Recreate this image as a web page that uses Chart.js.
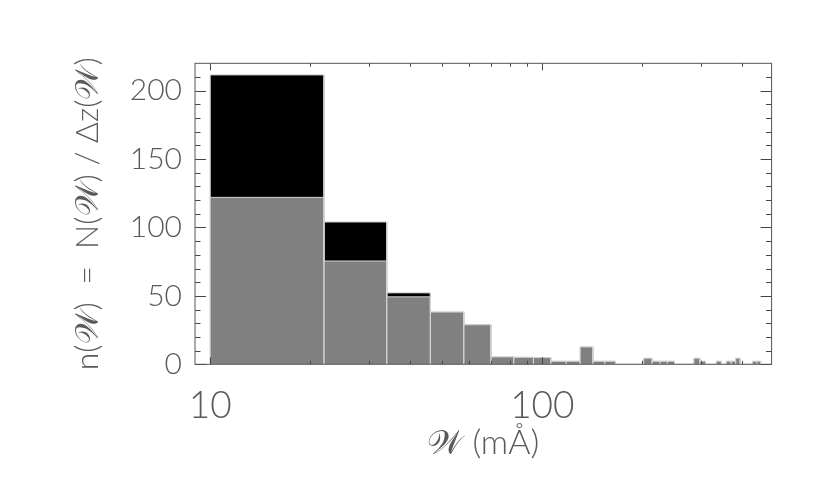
<!DOCTYPE html>
<html>
<head>
<meta charset="utf-8">
<script src="https://cdn.jsdelivr.net/npm/chart.js@4/dist/chart.umd.min.js"></script>
<style>
  html, body { margin: 0; padding: 0; background: #fff; }
  #wrap { width: 830px; height: 489px; }
</style>
</head>
<body>
<div id="wrap"><canvas id="hist" width="830" height="489"></canvas></div>
<script>
// Bin edges in mA: 12 mA wide bins from 10 up to 490
const binEdges = [10, 22, 34, 46, 58, 70, 82, 94, 106, 118, 130, 142, 154, 166, 178, 190,
    202, 214, 226, 238, 250, 262, 274, 286, 298, 310, 322, 334, 346, 358, 370, 382,
    394, 406, 418, 430, 442, 454, 466, 478, 490];

// n(W) for the full sample (black) and the subset (grey), one value per bin
const totalValues = [211.5, 104, 52.2, 38.2, 28.9, 5.4, 5.1, 4.9, 2.2, 2.2, 12.7, 2.2, 2.2, 0, 0, 0,
    4.4, 2.2, 2.2, 2.2, 0, 0, 0, 4.4, 2.2, 0, 0, 2.2, 0, 2.2, 2.2,
    4.4, 0, 0, 0, 2.2, 2.2, 0, 0, 0];
const subsetValues = [122, 75.5, 49.3, 38.2, 28.9, 5.4, 5.1, 4.9, 2.2, 2.2, 12.7, 2.2, 2.2, 0, 0, 0,
    4.4, 2.2, 2.2, 2.2, 0, 0, 0, 4.4, 2.2, 0, 0, 2.2, 0, 2.2, 2.2,
    4.4, 0, 0, 0, 2.2, 2.2, 0, 0, 0];

// Axis ticks
const xMajorTicks = [10, 100];
const xMinorTicks = [20, 30, 40, 50, 60, 70, 80, 90, 200, 300, 400];
const yMajorTicks = [0, 50, 100, 150, 200];
const yMinorTicks = [10, 20, 30, 40, 60, 70, 80, 90, 110, 120, 130, 140, 160, 170, 180, 190, 210];

const W = '\u{1D4B2}';
const FONT = 'Lato, "DejaVu Sans", sans-serif';
const INK = '#5a5a5a';

// turn a list of bin heights into the outline of a filled histogram
function histogramPoints(values) {
    const pts = [];
    values.forEach((v, i) => {
        if (!v) return;
        const lo = binEdges[i], hi = binEdges[i + 1];
        pts.push({x: lo, y: 0}, {x: lo, y: v}, {x: hi, y: v}, {x: hi, y: 0});
    });
    return pts;
}

// IDL-style box with inward tick marks on all four sides
const frameTicks = {
    id: 'frameTicks',
    afterDatasetsDraw(chart) {
        const {ctx, chartArea: a, scales: {x, y}} = chart;
        ctx.save();
        ctx.strokeStyle = '#444';
        ctx.lineWidth = 1;
        ctx.beginPath();
        const xt = (list, len) => list.forEach(v => {
            const px = Math.round(x.getPixelForValue(v)) + 0.5;
            ctx.moveTo(px, a.bottom); ctx.lineTo(px, a.bottom - len);
            ctx.moveTo(px, a.top); ctx.lineTo(px, a.top + len);
        });
        const yt = (list, len) => list.forEach(v => {
            const py = Math.round(y.getPixelForValue(v)) + 0.5;
            ctx.moveTo(a.left, py); ctx.lineTo(a.left + len, py);
            ctx.moveTo(a.right, py); ctx.lineTo(a.right - len, py);
        });
        xt(xMajorTicks, 7);
        xt(xMinorTicks, 3.5);
        yt(yMajorTicks, 11);
        yt(yMinorTicks, 5.5);
        ctx.stroke();
        ctx.strokeStyle = '#555';
        ctx.strokeRect(a.left, a.top, a.right - a.left, a.bottom - a.top);
        ctx.restore();
    }
};

new Chart(document.getElementById('hist').getContext('2d'), {
    type: 'line',
    data: {
        datasets: [{
            label: 'subset',
            data: histogramPoints(subsetValues),
            backgroundColor: '#808080',
            borderColor: '#d4d4d4',
            borderWidth: 1,
            fill: 'origin',
            pointRadius: 0,
            tension: 0
        }, {
            label: 'all',
            data: histogramPoints(totalValues),
            backgroundColor: '#000000',
            borderColor: '#c8c8c8',
            borderWidth: 1,
            fill: 'origin',
            pointRadius: 0,
            tension: 0
        }]
    },
    options: {
        responsive: false,
        devicePixelRatio: 1,
        animation: false,
        layout: {
            padding: {left: 20, right: 58.4, top: 63.3, bottom: 0}
        },
        plugins: {
            legend: {display: false},
            tooltip: {enabled: false}
        },
        scales: {
            x: {
                type: 'logarithmic',
                min: 9,
                max: 490,
                afterFit: s => { s.height = 489 - 364.3; },
                afterBuildTicks: s => {
                    s.ticks = xMajorTicks.concat(xMinorTicks).sort((a, b) => a - b).map(v => ({value: v}));
                },
                grid: {display: false, drawTicks: false},
                border: {display: false},
                ticks: {
                    autoSkip: false,
                    maxRotation: 0,
                    padding: 20,
                    color: INK,
                    font: {family: FONT, size: 37, weight: 300},
                    callback: v => xMajorTicks.includes(v) ? String(v) : ''
                },
                title: {
                    display: true,
                    text: W + ' (m\u00C5)',
                    color: INK,
                    font: {family: FONT, size: 34, weight: 300},
                    padding: {top: 0, bottom: 26}
                }
            },
            y: {
                type: 'linear',
                min: 0,
                max: 220,
                afterFit: s => { s.width = 195 - 20; },
                afterBuildTicks: s => {
                    s.ticks = yMajorTicks.map(v => ({value: v}));
                },
                grid: {display: false, drawTicks: false},
                border: {display: false},
                ticks: {
                    padding: 13,
                    color: INK,
                    font: {family: FONT, size: 30, weight: 300}
                },
                title: {
                    display: true,
                    text: 'n(' + W + ')  =  N(' + W + ') / \u0394z(' + W + ')',
                    color: INK,
                    font: {family: FONT, size: 32, weight: 300},
                    padding: {top: 48, bottom: 0}
                }
            }
        }
    },
    plugins: [frameTicks]
});
</script>
</body>
</html>
